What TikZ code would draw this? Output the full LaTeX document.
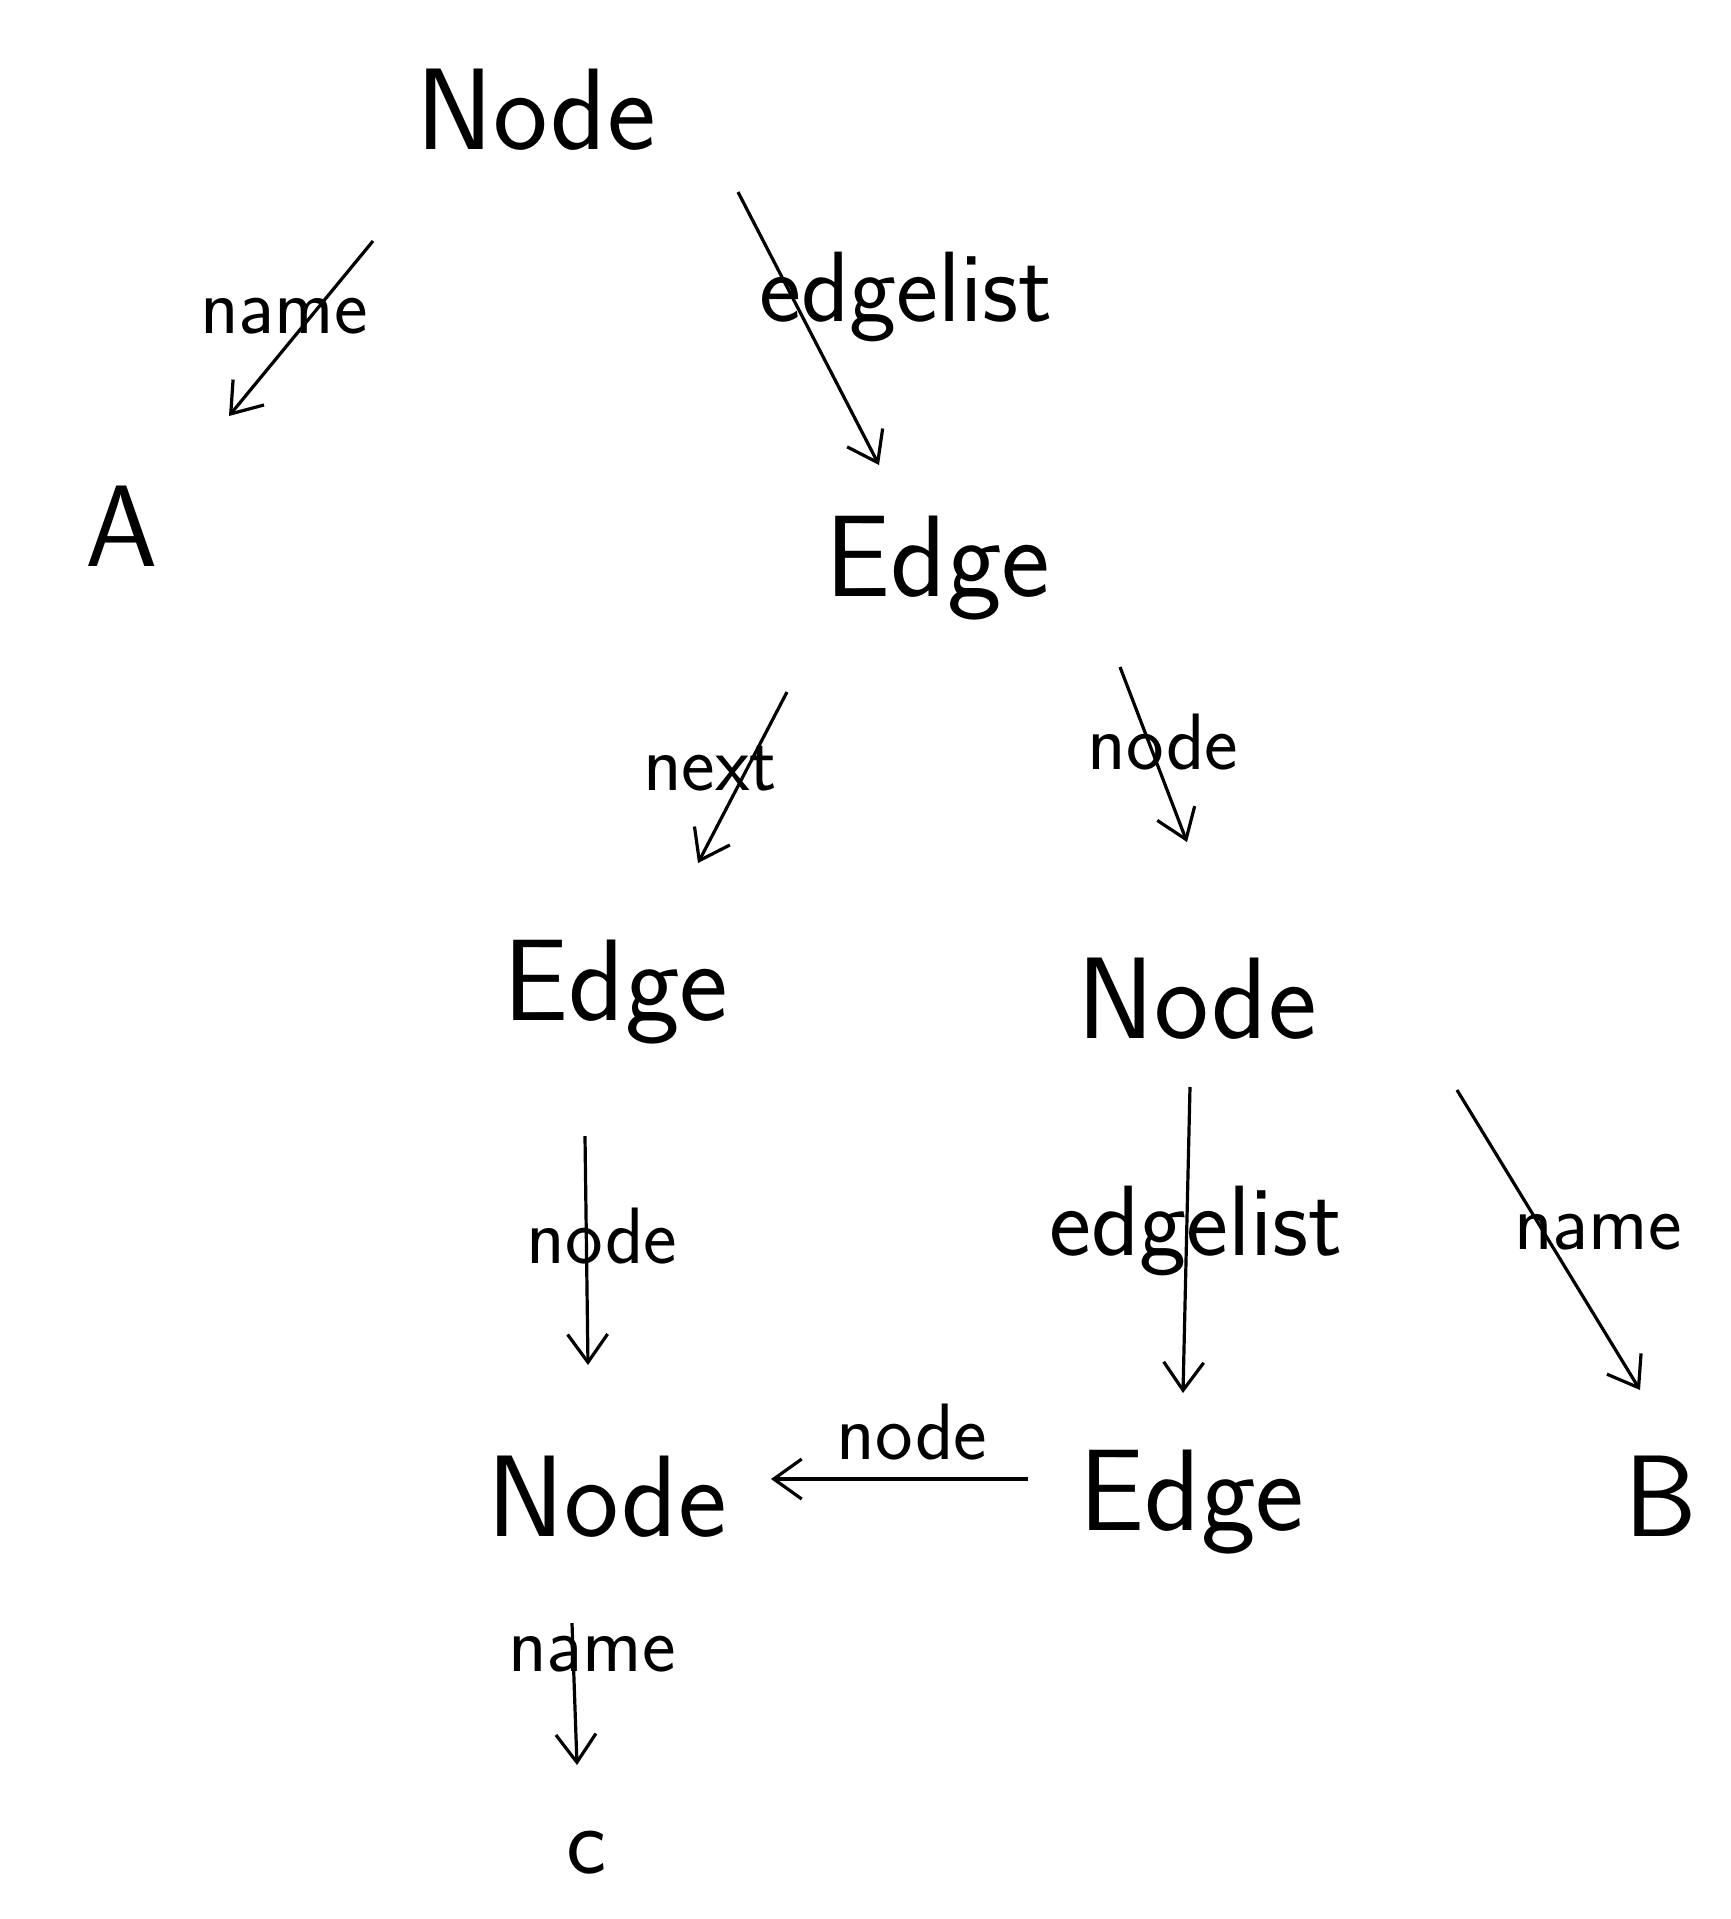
\documentclass[tikz,border=0pt]{standalone}
\usepackage{fontspec}
\usetikzlibrary{arrows.meta}
\tikzset{every picture/.style={line width=0.8pt}}
\tikzset{
  word/.style={anchor=base, inner sep=0pt, font=\sffamily\fontsize{29}{34}\selectfont},
  small/.style={anchor=base, inner sep=0pt, font=\sffamily\fontsize{24}{28}\selectfont},
  lbl/.style={anchor=base, inner sep=0pt, font=\sffamily\fontsize{20}{24}\selectfont},
  biglbl/.style={anchor=base, inner sep=0pt, font=\sffamily\fontsize{25}{30}\selectfont},
  ptr/.style={-{Straight Barb[length=7pt,width=10pt]}},
}

\begin{document}
\begin{tikzpicture}[x=0.25pt,y=0.25pt,yscale=-1,xscale=1]
	\useasboundingbox (0,0) rectangle (1731,1919);

	% Text Node
	\draw (536,149) node [word] (nodetop) {Node};
	% Text Node
	\draw (122,566) node [word] (a) {A};
	% Text Node
	\draw (938,596) node [word] (edgeone) {Edge};
	% Text Node
	\draw (616,1020) node [word] (edgetwo) {Edge};
	% Text Node
	\draw (1197,1038) node [word] (nodetwo) {Node};
	% Text Node
	\draw (607,1536) node [word] (nodethree) {Node};
	% Text Node
	\draw (1192,1530) node [word] (edgethree) {Edge};
	% Text Node
	\draw (1661,1536) node [word] (b) {B};
	% Text Node
	\draw (587,1873) node [small] (c) {c};

	%Straight Lines
	\coordinate (nameA-s) at (373,241);
	\coordinate (nameA-e) at (229,416);
	\draw [ptr] (nameA-s) -- (nameA-e);
	%Straight Lines
	\coordinate (elist1-s) at (738,192);
	\coordinate (elist1-e) at (879,465);
	\draw [ptr] (elist1-s) -- (elist1-e);
	%Straight Lines
	\coordinate (next-s) at (787,692);
	\coordinate (next-e) at (698,863);
	\draw [ptr] (next-s) -- (next-e);
	%Straight Lines
	\coordinate (node1-s) at (1120,667);
	\coordinate (node1-e) at (1187,842);
	\draw [ptr] (node1-s) -- (node1-e);
	%Straight Lines
	\coordinate (node2-s) at (585,1136);
	\coordinate (node2-e) at (588,1365);
	\draw [ptr] (node2-s) -- (node2-e);
	%Straight Lines
	\coordinate (elist2-s) at (1190,1087);
	\coordinate (elist2-e) at (1183,1393);
	\draw [ptr] (elist2-s) -- (elist2-e);
	%Straight Lines
	\coordinate (nameB-s) at (1457,1090);
	\coordinate (nameB-e) at (1640,1390);
	\draw [ptr] (nameB-s) -- (nameB-e);
	%Straight Lines
	\coordinate (node3-s) at (1028,1479);
	\coordinate (node3-e) at (771,1479);
	\draw [ptr] (node3-s) -- (node3-e);
	%Straight Lines
	\coordinate (nameC-s) at (572,1623);
	\coordinate (nameC-e) at (577,1765);
	\draw [ptr] (nameC-s) -- (nameC-e);

	% Text Node
	\draw (284,333) node [lbl] (lnameA) {name};
	% Text Node
	\draw (906,321) node [biglbl] (lelist1) {edgelist};
	% Text Node
	\draw (710,790) node [lbl] (lnext) {next};
	% Text Node
	\draw (1163,769) node [lbl] (lnode1) {node};
	% Text Node
	\draw (602,1263) node [lbl] (lnode2) {node};
	% Text Node
	\draw (1196,1255) node [biglbl] (lelist2) {edgelist};
	% Text Node
	\draw (1598,1249) node [lbl] (lnameB) {name};
	% Text Node
	\draw (912,1459) node [lbl] (lnode3) {node};
	% Text Node
	\draw (592,1671) node [lbl] (lnameC) {name};

\end{tikzpicture}
\end{document}
